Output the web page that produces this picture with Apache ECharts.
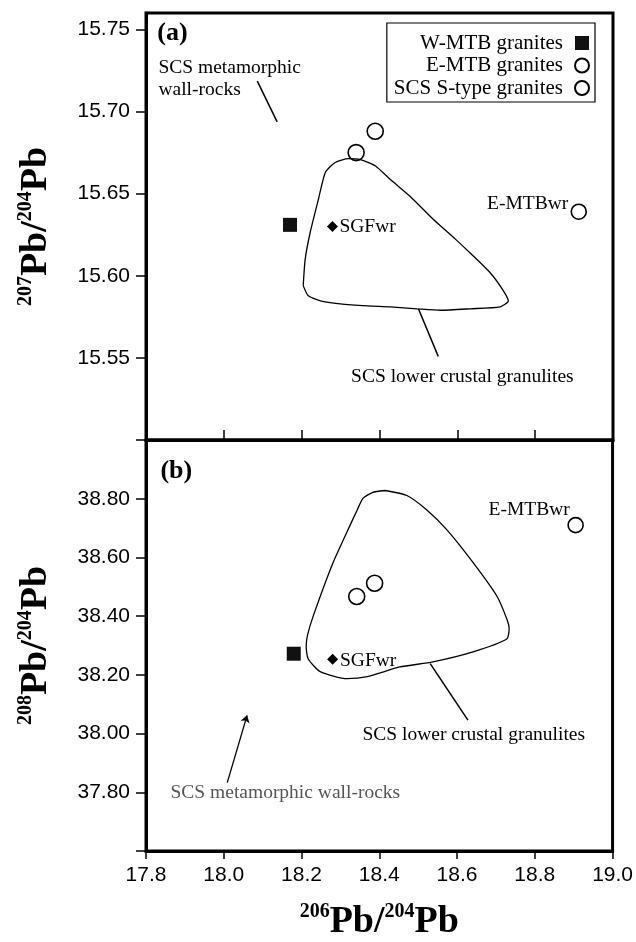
<!DOCTYPE html>
<html>
<head>
<meta charset="utf-8">
<script src="https://cdn.jsdelivr.net/npm/echarts@6/dist/echarts.min.js"></script>
<style>html,body{margin:0;padding:0;background:#fff;}#c{width:636px;height:942px;}</style>
</head>
<body>
<div id="c"></div>
<script>
// ---- data ----
const xTicks = [17.8, 18.0, 18.2, 18.4, 18.6, 18.8, 19.0];
const yTicksTop = [15.50, 15.55, 15.60, 15.65, 15.70, 15.75];
const yLabelsTop = [15.55, 15.60, 15.65, 15.70, 15.75];
const yLabelsBot = [37.80, 38.00, 38.20, 38.40, 38.60, 38.80];

const wmtbTop = [[18.17, 15.631]];
const wmtbBot = [[18.18, 38.272]];
const emtbTop = [[18.912, 15.639]];
const emtbBot = [[18.905, 38.710]];
const scsTop = [[18.340, 15.675], [18.389, 15.688]];
const scsBot = [[18.342, 38.467], [18.388, 38.512]];
const sgfTop = [[18.279, 15.630]];
const sgfBot = [[18.280, 38.253]];

// SCS lower crustal granulites field (outline)
const granTop = [
  [18.204, 15.594], [18.209, 15.610], [18.222, 15.6265], [18.243, 15.6465], [18.261, 15.663],
  [18.286, 15.669], [18.320, 15.6713], [18.351, 15.6707], [18.389, 15.667], [18.428, 15.6586],
  [18.479, 15.6483], [18.538, 15.6344], [18.595, 15.6223], [18.641, 15.612], [18.685, 15.6017],
  [18.718, 15.591], [18.731, 15.5847], [18.710, 15.5811], [18.633, 15.5799], [18.556, 15.579],
  [18.497, 15.5799], [18.428, 15.5811], [18.369, 15.5817], [18.299, 15.5829], [18.248, 15.5847],
  [18.217, 15.5878], [18.204, 15.594]
];
const granBot = [
  [18.415, 38.828], [18.471, 38.811], [18.523, 38.761], [18.574, 38.694], [18.641, 38.583],
  [18.703, 38.467], [18.728, 38.390], [18.734, 38.356], [18.728, 38.322], [18.641, 38.278],
  [18.538, 38.244], [18.453, 38.227], [18.369, 38.194], [18.317, 38.187], [18.248, 38.211],
  [18.217, 38.255], [18.212, 38.296], [18.215, 38.333], [18.230, 38.400], [18.281, 38.582],
  [18.325, 38.710], [18.343, 38.761], [18.358, 38.801], [18.382, 38.821], [18.415, 38.828]
];

// pointer lines [[x1,y1],[x2,y2]]
const ptrTop = [
  [[18.086, 15.7185], [18.137, 15.6937]],
  [[18.500, 15.5799], [18.551, 15.5509]]
];
const ptrBot = [[[18.531, 38.238], [18.628, 38.046]]];
const arrowBot = [[[18.009, 37.833], [18.060, 38.062]]];

// annotations [x, y, text]
const notesTopLeftAnchored = [[17.832, 15.7264, 'SCS metamorphic'], [17.832, 15.7131, 'wall-rocks'], [18.297, 15.6295, 'SGFwr']];
const notesTopRightAnchored = [[18.885, 15.644, 'E-MTBwr']];
const notesTopCentered = [[18.613, 15.5387, 'SCS lower crustal granulites']];
const notesBotLeftAnchored = [[18.299, 38.248, 'SGFwr']];
const notesBotRightAnchored = [[18.890, 38.761, 'E-MTBwr']];
const notesBotCentered = [[18.643, 37.995, 'SCS lower crustal granulites']];
const notesBotGrey = [[17.863, 37.799, 'SCS metamorphic wall-rocks']];
const panelTags = [[0, 17.829, 15.7476, '(a)'], [1, 17.837, 38.895, '(b)']];

// ---- chart ----
const chart = echarts.init(document.getElementById('c'), null, {renderer: 'canvas'});
const serif = 'Liberation Serif';
const sans = 'Liberation Sans';

const titleRich = {
  sup: {fontFamily: serif, fontWeight: 'bold', fontSize: 20, lineHeight: 20, verticalAlign: 'top', color: '#000'},
  main: {fontFamily: serif, fontWeight: 'bold', fontSize: 38, lineHeight: 40, color: '#000'}
};

function noteSeries(arr, xi, position, extra) {
  return {
    type: 'scatter', xAxisIndex: xi, yAxisIndex: xi, symbolSize: 0, silent: true, z: 10,
    itemStyle: {opacity: 1},
    data: arr.map(d => ({value: [d[0], d[1]], name: d[2]})),
    label: Object.assign({
      show: true, position: position, distance: 0, formatter: p => p.name,
      fontFamily: serif, fontSize: 19.5, color: '#000', opacity: 1
    }, extra || {})
  };
}

const axisLine = {show: true, onZero: false, lineStyle: {color: '#000', width: 3}};

const option = {
  animation: false,
  backgroundColor: '#fff',
  grid: [
    {left: 146, right: 23, top: 13, height: 427, show: true, borderColor: '#000', borderWidth: 3},
    {left: 146, right: 23, top: 440, bottom: 88, show: true, borderColor: '#000', borderWidth: 3}
  ],
  legend: {
    orient: 'vertical', align: 'right', right: 41, top: 23,
    selectedMode: false,
    borderColor: '#000', borderWidth: 1.2, borderRadius: 0,
    padding: [9, 5, 3, 7], itemGap: 0.5, itemWidth: 14, itemHeight: 14,
    textStyle: {fontFamily: serif, fontSize: 21, color: '#000', lineHeight: 22, padding: [0, 7, 0, 0]},
    data: [
      {name: 'W-MTB granites', icon: 'rect'},
      {name: 'E-MTB granites', icon: 'circle'},
      {name: 'SCS S-type granites', icon: 'circle'}
    ]
  },
  xAxis: [
    {
      type: 'value', gridIndex: 0, min: 17.8, max: 19.0, interval: 0.2,
      axisLine: axisLine,
      axisTick: {show: true, inside: true, length: 10, lineStyle: {color: '#000', width: 1.5}},
      axisLabel: {show: false}, splitLine: {show: false}
    },
    {
      type: 'value', gridIndex: 1, min: 17.8, max: 19.0, interval: 0.2,
      axisLine: axisLine,
      axisTick: {show: true, inside: false, length: 8, lineStyle: {color: '#000', width: 1.5}},
      axisLabel: {show: true, margin: 14, fontFamily: sans, fontSize: 21, color: '#000',
        formatter: v => v.toFixed(1)},
      splitLine: {show: false},
      name: '{sup|206}{main|Pb/}{sup|204}{main|Pb}', nameLocation: 'middle', nameGap: 51,
      nameTextStyle: {rich: titleRich}
    }
  ],
  yAxis: [
    {
      type: 'value', gridIndex: 0, min: 15.50, max: 15.76,
      axisLine: axisLine,
      axisTick: {show: true, inside: false, length: 10, customValues: yTicksTop, lineStyle: {color: '#000', width: 1.5}},
      axisLabel: {show: true, margin: 16, customValues: yLabelsTop, fontFamily: sans, fontSize: 21, color: '#000',
        formatter: v => v.toFixed(2)},
      splitLine: {show: false},
      name: '{sup|207}{main|Pb/}{sup|204}{main|Pb}', nameLocation: 'middle', nameGap: 90, nameRotate: 90,
      nameTextStyle: {rich: titleRich}
    },
    {
      type: 'value', gridIndex: 1, min: 37.6, max: 39.0, interval: 0.2,
      axisLine: axisLine,
      axisTick: {show: true, inside: false, length: 10, lineStyle: {color: '#000', width: 1.5}},
      axisLabel: {show: true, margin: 16, fontFamily: sans, fontSize: 21, color: '#000',
        customValues: yLabelsBot, formatter: v => v.toFixed(2)},
      splitLine: {show: false},
      name: '{sup|208}{main|Pb/}{sup|204}{main|Pb}', nameLocation: 'middle', nameGap: 90, nameRotate: 90,
      nameTextStyle: {rich: titleRich}
    }
  ],
  series: [
    {type: 'line', xAxisIndex: 0, yAxisIndex: 0, data: granTop, symbol: 'none', smooth: 0.2, silent: true,
      lineStyle: {color: '#000', width: 1.3}},
    {type: 'line', xAxisIndex: 1, yAxisIndex: 1, data: granBot, symbol: 'none', smooth: 0.2, silent: true,
      lineStyle: {color: '#000', width: 1.3}},
    {type: 'lines', coordinateSystem: 'cartesian2d', xAxisIndex: 0, yAxisIndex: 0, silent: true,
      data: ptrTop.map(c => ({coords: c})), symbol: ['none', 'none'], lineStyle: {color: '#000', width: 1.5, opacity: 1}},
    {type: 'lines', coordinateSystem: 'cartesian2d', xAxisIndex: 1, yAxisIndex: 1, silent: true,
      data: ptrBot.map(c => ({coords: c})), symbol: ['none', 'none'], lineStyle: {color: '#000', width: 1.5, opacity: 1}},
    {type: 'lines', coordinateSystem: 'cartesian2d', xAxisIndex: 1, yAxisIndex: 1, silent: true,
      data: arrowBot.map(c => ({coords: c})), symbol: ['none', 'arrow'], symbolSize: 7,
      lineStyle: {color: '#000', width: 1.3, opacity: 1}},

    {name: 'W-MTB granites', type: 'scatter', xAxisIndex: 0, yAxisIndex: 0, data: wmtbTop, symbol: 'rect', symbolSize: 14,
      itemStyle: {color: '#111', opacity: 1}},
    {name: 'W-MTB granites', type: 'scatter', xAxisIndex: 1, yAxisIndex: 1, data: wmtbBot, symbol: 'rect', symbolSize: 14,
      itemStyle: {color: '#111', opacity: 1}},
    {name: 'E-MTB granites', type: 'scatter', xAxisIndex: 0, yAxisIndex: 0, data: emtbTop, symbol: 'circle', symbolSize: 15,
      itemStyle: {color: '#fff', borderColor: '#000', borderWidth: 1.6, opacity: 1}},
    {name: 'E-MTB granites', type: 'scatter', xAxisIndex: 1, yAxisIndex: 1, data: emtbBot, symbol: 'circle', symbolSize: 15,
      itemStyle: {color: '#fff', borderColor: '#000', borderWidth: 1.6, opacity: 1}},
    {name: 'SCS S-type granites', type: 'scatter', xAxisIndex: 0, yAxisIndex: 0, data: scsTop, symbol: 'circle', symbolSize: 16,
      itemStyle: {color: '#fff', borderColor: '#000', borderWidth: 1.6, opacity: 1}},
    {name: 'SCS S-type granites', type: 'scatter', xAxisIndex: 1, yAxisIndex: 1, data: scsBot, symbol: 'circle', symbolSize: 16,
      itemStyle: {color: '#fff', borderColor: '#000', borderWidth: 1.6, opacity: 1}},
    {name: 'SGFwr', type: 'scatter', xAxisIndex: 0, yAxisIndex: 0, data: sgfTop, symbol: 'diamond', symbolSize: 11,
      itemStyle: {color: '#000', opacity: 1}},
    {name: 'SGFwr', type: 'scatter', xAxisIndex: 1, yAxisIndex: 1, data: sgfBot, symbol: 'diamond', symbolSize: 11,
      itemStyle: {color: '#000', opacity: 1}},

    noteSeries(notesTopLeftAnchored, 0, 'right'),
    noteSeries(notesTopRightAnchored, 0, 'left'),
    noteSeries(notesTopCentered, 0, 'inside'),
    noteSeries(notesBotLeftAnchored, 1, 'right'),
    noteSeries(notesBotRightAnchored, 1, 'left'),
    noteSeries(notesBotCentered, 1, 'inside'),
    noteSeries(notesBotGrey, 1, 'right', {color: '#555'}),
    noteSeries(panelTags.filter(t => t[0] === 0).map(t => t.slice(1)), 0, 'right', {fontWeight: 'bold', fontSize: 26}),
    noteSeries(panelTags.filter(t => t[0] === 1).map(t => t.slice(1)), 1, 'right', {fontWeight: 'bold', fontSize: 26})
  ]
};
chart.setOption(option);
</script>
</body>
</html>
